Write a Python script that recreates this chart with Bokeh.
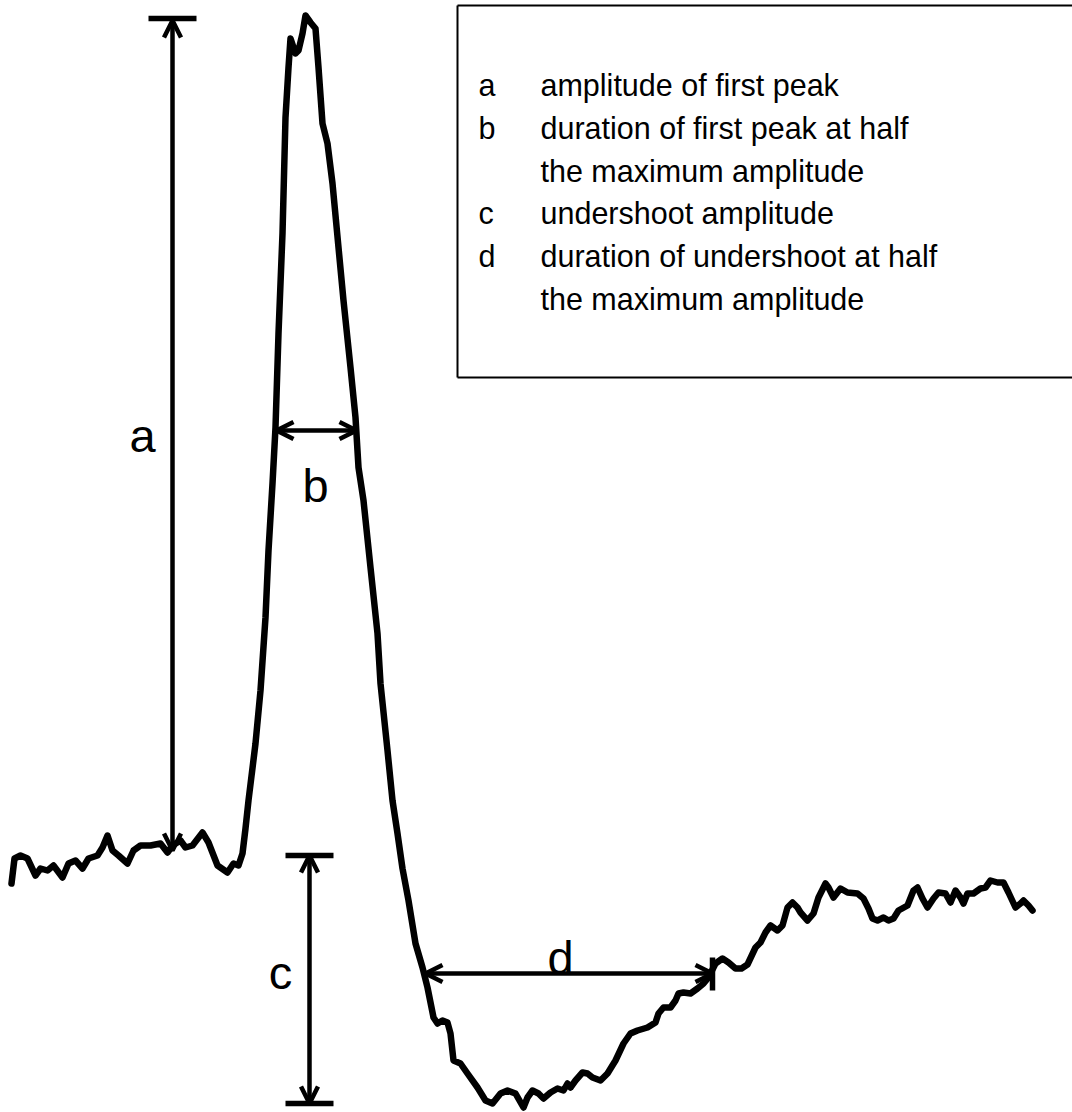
from bokeh.plotting import figure
from bokeh.models import Range1d, ColumnDataSource, Arrow, OpenHead
from bokeh.core.properties import value
from bokeh.embed import file_html
from bokeh.resources import INLINE

# ---------------------------------------------------------------
# Response trace: time (arbitrary units) and signal (baseline ~ 0)
# ---------------------------------------------------------------
time = [
    11, 14, 20, 27, 35, 40, 47, 53, 62, 68, 75, 82, 88, 97, 102, 107, 112, 118,
    127, 133, 140, 150, 160, 167, 172, 180, 185, 192, 202, 208, 217, 227, 233,
    238, 242,
    245, 248, 255, 260, 265, 268, 272, 275, 278, 282, 285, 288, 290, 295, 298,
    302, 305, 310, 315, 318, 322, 327, 332, 338, 343, 350, 355, 358, 363, 370,
    377, 380, 387, 392, 397, 402, 408,
    415, 422, 427, 433, 437, 442, 447, 450, 453, 460, 467, 477, 485, 492, 500,
    507, 515, 523, 527, 532, 538, 543, 550, 557, 563, 567, 570, 575, 582, 587,
    592, 600, 607, 615, 623, 630, 637, 647, 655, 658, 663, 670, 675, 678, 683,
    690, 697, 703, 708, 715, 722, 728, 735, 741, 747,
    755, 760, 765, 770, 777, 782, 787, 792, 797, 800, 807, 813, 818, 825, 828,
    833, 840, 847, 857, 863, 868, 872, 877, 883, 888, 893, 898, 907, 913, 917,
    922, 927, 933, 938, 945, 950, 955, 960, 963, 967, 973, 980, 985, 990, 997,
    1003, 1008, 1015, 1020, 1023, 1028, 1032,
]
signal = [
    -33, -8, -5, -8, -25, -18, -20, -15, -27, -13, -10, -18, -8, -5, 3, 15, 0,
    -5, -13, 0, 5, 5, 7, -2, 5, 10, 3, 5, 18, 8, -15, -22, -13, -15, -3,
    22, 50, 107, 160, 233, 300, 367, 423, 517, 617, 733, 783, 812, 797, 800,
    817, 835, 828, 822, 783, 727, 707, 667, 603, 550, 483, 433, 383, 350, 283,
    217, 167, 100, 50, 17, -18, -50,
    -93, -117, -137, -167, -173, -170, -172, -183, -210, -213, -223, -237, -250,
    -253, -243, -240, -243, -257, -247, -240, -243, -248, -242, -238, -240,
    -233, -237, -230, -222, -223, -227, -230, -223, -210, -193, -183, -180,
    -177, -172, -163, -157, -157, -150, -143, -142, -143, -138, -133, -127,
    -113, -108, -112, -118, -118, -114,
    -97, -92, -82, -75, -80, -75, -57, -52, -57, -62, -70, -63, -47, -33, -37,
    -47, -38, -42, -43, -48, -58, -68, -70, -67, -70, -68, -60, -55, -40, -37,
    -48, -57, -48, -42, -43, -52, -40, -47, -53, -43, -43, -38, -37, -30, -32,
    -32, -42, -57, -53, -50, -55, -60,
]

# ---------------------------------------------------------------
# Measured quantities marked on the trace
# ---------------------------------------------------------------
baseline_level = 0
peak_level = 830            # a: amplitude of first peak
peak_half_level = 420       # b drawn at half the peak amplitude
peak_half_start, peak_half_end = 276, 356
amp_marker_time = 172
under_top_level = -5        # c: undershoot amplitude
under_bottom_level = -253
under_marker_time = 309
under_half_level = -123     # d drawn at half the undershoot amplitude
under_half_start, under_half_end = 425, 712

marker_letters = ["a", "b", "c", "d"]
marker_x = [142, 315, 280, 560]
marker_y = [415, 365, -122, -107]

legend_keys = ["a", "b", "", "c", "d", ""]
legend_texts = [
    "amplitude of first peak",
    "duration of first peak at half",
    "the maximum amplitude",
    "undershoot amplitude",
    "duration of undershoot at half",
    "the maximum amplitude",
]
legend_rows_y = [766, 723, 680, 638, 595, 552]

FONT = "Liberation Sans"

p = figure(
    width=1072, height=1112,
    x_range=Range1d(0, 1072), y_range=Range1d(-262, 850),
    x_axis_type=None, y_axis_type=None,
    toolbar_location=None, output_backend="svg",
    min_border=0, background_fill_color="white",
)
p.grid.visible = False
p.outline_line_color = None

# trace
p.line(time, signal, line_color="black", line_width=6.5,
       line_join="round", line_cap="round")

# double-headed measurement arrows
arrows = ColumnDataSource(dict(
    x0=[amp_marker_time, peak_half_start, under_marker_time, under_half_start],
    y0=[baseline_level, peak_half_level, under_top_level, under_half_level],
    x1=[amp_marker_time, peak_half_end, under_marker_time, under_half_end],
    y1=[peak_level, peak_half_level, under_bottom_level, under_half_level],
))
p.add_layout(Arrow(
    source=arrows, x_start="x0", y_start="y0", x_end="x1", y_end="y1",
    line_color="black", line_width=4.5,
    start=OpenHead(size=17, line_width=4.5, line_color="black"),
    end=OpenHead(size=17, line_width=4.5, line_color="black"),
))

# end bars of the vertical measurements and the tick closing d
bar_half = 24
p.segment(
    x0=[amp_marker_time - bar_half, under_marker_time - bar_half,
        under_marker_time - bar_half, under_half_end],
    y0=[peak_level + 2, under_top_level, under_bottom_level,
        under_half_level + 16],
    x1=[amp_marker_time + bar_half, under_marker_time + bar_half,
        under_marker_time + bar_half, under_half_end],
    y1=[peak_level + 2, under_top_level, under_bottom_level,
        under_half_level - 17],
    line_color="black", line_width=5.5,
)

# letters beside the measurements
p.text(x=marker_x, y=marker_y, text=marker_letters,
       text_font=value(FONT), text_font_size=value("47px"),
       text_align="center", text_baseline="alphabetic", text_color="black")

# key box (open to the right edge)
box_left, box_top, box_bottom, box_right = 457, 845, 473, 1090
p.segment(x0=[box_left, box_left, box_left],
          y0=[box_top, box_top, box_bottom],
          x1=[box_right, box_left, box_right],
          y1=[box_top, box_bottom, box_bottom],
          line_color="black", line_width=2)

p.text(x=[478] * len(legend_keys), y=legend_rows_y, text=legend_keys,
       text_font=value(FONT), text_font_size=value("30.5px"),
       text_align="left", text_baseline="alphabetic", text_color="black")
p.text(x=[540] * len(legend_texts), y=legend_rows_y, text=legend_texts,
       text_font=value(FONT), text_font_size=value("30.5px"),
       text_align="left", text_baseline="alphabetic", text_color="black")

open("out.html", "w").write(file_html(p, INLINE))
